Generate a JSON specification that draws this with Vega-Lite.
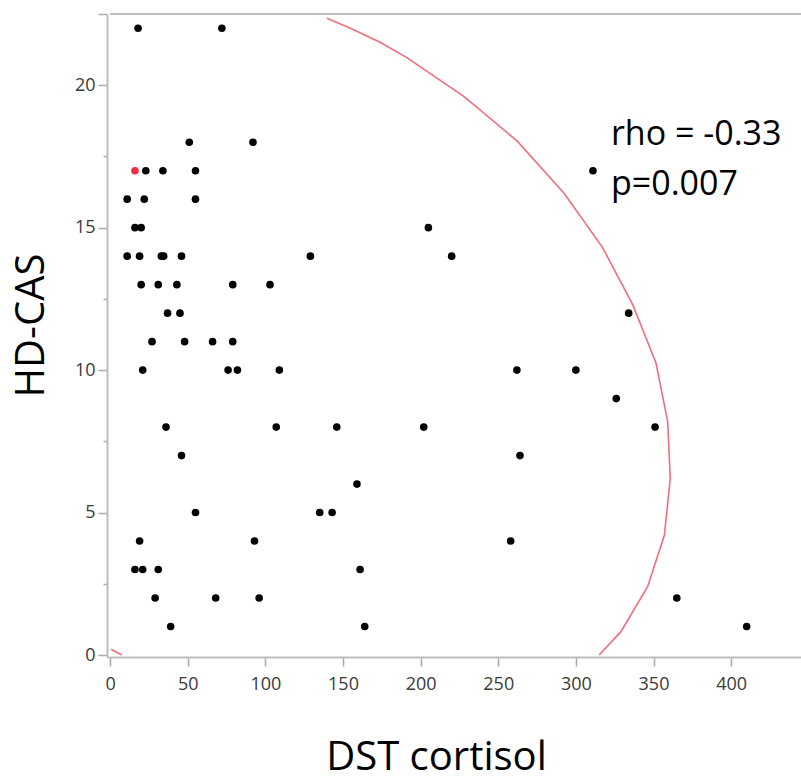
{
  "$schema": "https://vega.github.io/schema/vega-lite/v6.json",
  "width": 694,
  "height": 643,
  "autosize": {"type": "none"},
  "padding": {"left": 107, "top": 14, "right": 0, "bottom": 119},
  "background": "white",
  "config": {"view": {"stroke": null}, "font": "Open Sans"},
  "datasets": {
    "points": [
      {"cortisol": 18, "hdcas": 22, "group": "normal"},
      {"cortisol": 72, "hdcas": 22, "group": "normal"},
      {"cortisol": 51, "hdcas": 18, "group": "normal"},
      {"cortisol": 92, "hdcas": 18, "group": "normal"},
      {"cortisol": 16, "hdcas": 17, "group": "highlight"},
      {"cortisol": 23, "hdcas": 17, "group": "normal"},
      {"cortisol": 34, "hdcas": 17, "group": "normal"},
      {"cortisol": 55, "hdcas": 17, "group": "normal"},
      {"cortisol": 311, "hdcas": 17, "group": "normal"},
      {"cortisol": 11, "hdcas": 16, "group": "normal"},
      {"cortisol": 22, "hdcas": 16, "group": "normal"},
      {"cortisol": 55, "hdcas": 16, "group": "normal"},
      {"cortisol": 16, "hdcas": 15, "group": "normal"},
      {"cortisol": 20, "hdcas": 15, "group": "normal"},
      {"cortisol": 205, "hdcas": 15, "group": "normal"},
      {"cortisol": 11, "hdcas": 14, "group": "normal"},
      {"cortisol": 19, "hdcas": 14, "group": "normal"},
      {"cortisol": 33, "hdcas": 14, "group": "normal"},
      {"cortisol": 34.5, "hdcas": 14, "group": "normal"},
      {"cortisol": 46, "hdcas": 14, "group": "normal"},
      {"cortisol": 129, "hdcas": 14, "group": "normal"},
      {"cortisol": 220, "hdcas": 14, "group": "normal"},
      {"cortisol": 20, "hdcas": 13, "group": "normal"},
      {"cortisol": 31, "hdcas": 13, "group": "normal"},
      {"cortisol": 43, "hdcas": 13, "group": "normal"},
      {"cortisol": 79, "hdcas": 13, "group": "normal"},
      {"cortisol": 103, "hdcas": 13, "group": "normal"},
      {"cortisol": 37, "hdcas": 12, "group": "normal"},
      {"cortisol": 45, "hdcas": 12, "group": "normal"},
      {"cortisol": 334, "hdcas": 12, "group": "normal"},
      {"cortisol": 27, "hdcas": 11, "group": "normal"},
      {"cortisol": 48, "hdcas": 11, "group": "normal"},
      {"cortisol": 66, "hdcas": 11, "group": "normal"},
      {"cortisol": 79, "hdcas": 11, "group": "normal"},
      {"cortisol": 21, "hdcas": 10, "group": "normal"},
      {"cortisol": 76, "hdcas": 10, "group": "normal"},
      {"cortisol": 82, "hdcas": 10, "group": "normal"},
      {"cortisol": 109, "hdcas": 10, "group": "normal"},
      {"cortisol": 262, "hdcas": 10, "group": "normal"},
      {"cortisol": 300, "hdcas": 10, "group": "normal"},
      {"cortisol": 326, "hdcas": 9, "group": "normal"},
      {"cortisol": 36, "hdcas": 8, "group": "normal"},
      {"cortisol": 107, "hdcas": 8, "group": "normal"},
      {"cortisol": 146, "hdcas": 8, "group": "normal"},
      {"cortisol": 202, "hdcas": 8, "group": "normal"},
      {"cortisol": 351, "hdcas": 8, "group": "normal"},
      {"cortisol": 46, "hdcas": 7, "group": "normal"},
      {"cortisol": 264, "hdcas": 7, "group": "normal"},
      {"cortisol": 159, "hdcas": 6, "group": "normal"},
      {"cortisol": 55, "hdcas": 5, "group": "normal"},
      {"cortisol": 135, "hdcas": 5, "group": "normal"},
      {"cortisol": 143, "hdcas": 5, "group": "normal"},
      {"cortisol": 19, "hdcas": 4, "group": "normal"},
      {"cortisol": 93, "hdcas": 4, "group": "normal"},
      {"cortisol": 258, "hdcas": 4, "group": "normal"},
      {"cortisol": 16, "hdcas": 3, "group": "normal"},
      {"cortisol": 21, "hdcas": 3, "group": "normal"},
      {"cortisol": 31, "hdcas": 3, "group": "normal"},
      {"cortisol": 161, "hdcas": 3, "group": "normal"},
      {"cortisol": 29, "hdcas": 2, "group": "normal"},
      {"cortisol": 68, "hdcas": 2, "group": "normal"},
      {"cortisol": 96, "hdcas": 2, "group": "normal"},
      {"cortisol": 365, "hdcas": 2, "group": "normal"},
      {"cortisol": 39, "hdcas": 1, "group": "normal"},
      {"cortisol": 164, "hdcas": 1, "group": "normal"},
      {"cortisol": 410, "hdcas": 1, "group": "normal"}
    ],
    "ellipse": [
      {"seg": "a", "i": 1, "cortisol": 139.6, "hdcas": 22.35},
      {"seg": "a", "i": 2, "cortisol": 154.8, "hdcas": 22.0},
      {"seg": "a", "i": 3, "cortisol": 174.2, "hdcas": 21.5},
      {"seg": "a", "i": 4, "cortisol": 191.4, "hdcas": 20.96},
      {"seg": "a", "i": 5, "cortisol": 228, "hdcas": 19.6},
      {"seg": "a", "i": 6, "cortisol": 262.4, "hdcas": 18.03},
      {"seg": "a", "i": 7, "cortisol": 292.5, "hdcas": 16.2},
      {"seg": "a", "i": 8, "cortisol": 317.2, "hdcas": 14.3},
      {"seg": "a", "i": 9, "cortisol": 336.6, "hdcas": 12.3},
      {"seg": "a", "i": 10, "cortisol": 351.6, "hdcas": 10.25},
      {"seg": "a", "i": 11, "cortisol": 359.1, "hdcas": 8.2},
      {"seg": "a", "i": 12, "cortisol": 360.8, "hdcas": 6.2},
      {"seg": "a", "i": 13, "cortisol": 357, "hdcas": 4.2},
      {"seg": "a", "i": 14, "cortisol": 346.2, "hdcas": 2.4},
      {"seg": "a", "i": 15, "cortisol": 329, "hdcas": 0.82},
      {"seg": "a", "i": 16, "cortisol": 315, "hdcas": 0},
      {"seg": "b", "i": 1, "cortisol": 0.6, "hdcas": 0.2},
      {"seg": "b", "i": 2, "cortisol": 7.5, "hdcas": 0}
    ]
  },
  "layer": [
    {
      "data": {"name": "ellipse"},
      "mark": {"type": "line", "color": "#f26d7d", "strokeWidth": 1.6, "clip": true},
      "encoding": {
        "x": {"field": "cortisol", "type": "quantitative", "title": "DST cortisol", "scale": {"domain": [-2, 445], "nice": false, "zero": false},
          "axis": {"values": [0, 50, 100, 150, 200, 250, 300, 350, 400], "grid": false, "domainColor": "#bdbdbd", "domainWidth": 2, "tickColor": "#ababab", "tickWidth": 1.5, "tickSize": 9, "labelFont": "Open Sans", "labelFontSize": 18, "labelColor": "#3a3a3a", "labelPadding": 9, "labelFlush": false, "titleFont": "Open Sans", "titleFontSize": 40, "titleFontWeight": "normal", "titleColor": "#000000", "titleX": 329, "titleY": 112, "titleBaseline": "alphabetic", "titleAnchor": "middle"}},
        "y": {"field": "hdcas", "type": "quantitative", "title": "HD-CAS", "scale": {"domain": [-0.07, 22.5], "nice": false, "zero": false},
          "axis": {"values": [0, 2.5, 5, 7.5, 10, 12.5, 15, 17.5, 20, 22.5], "labelExpr": "datum.value % 5 === 0 ? datum.label : ''", "grid": false, "domainColor": "#bdbdbd", "domainWidth": 2, "tickColor": "#ababab", "tickWidth": 1.5, "tickSize": {"condition": {"test": "datum.value % 5 === 0 || datum.value === 22.5", "value": 9}, "value": 4}, "labelFont": "Open Sans", "labelFontSize": 18, "labelColor": "#3a3a3a", "labelPadding": 3, "labelFlush": false, "titleFont": "Open Sans", "titleFontSize": 40, "titleFontWeight": "normal", "titleColor": "#000000", "titleX": -64, "titleY": 311, "titleAngle": -90, "titleBaseline": "alphabetic", "titleAlign": "center"}},
        "detail": {"field": "seg"},
        "order": {"field": "i", "type": "quantitative"}
      }
    },
    {
      "data": {"name": "points"},
      "mark": {"type": "circle", "size": 58, "opacity": 1},
      "encoding": {
        "x": {"field": "cortisol", "type": "quantitative", "title": "DST cortisol", "scale": {"domain": [-2, 445], "nice": false, "zero": false},
          "axis": {"values": [0, 50, 100, 150, 200, 250, 300, 350, 400], "grid": false, "domainColor": "#bdbdbd", "domainWidth": 2, "tickColor": "#ababab", "tickWidth": 1.5, "tickSize": 9, "labelFont": "Open Sans", "labelFontSize": 18, "labelColor": "#3a3a3a", "labelPadding": 9, "labelFlush": false, "titleFont": "Open Sans", "titleFontSize": 40, "titleFontWeight": "normal", "titleColor": "#000000", "titleX": 329, "titleY": 112, "titleBaseline": "alphabetic", "titleAnchor": "middle"}},
        "y": {"field": "hdcas", "type": "quantitative", "title": "HD-CAS", "scale": {"domain": [-0.07, 22.5], "nice": false, "zero": false},
          "axis": {"values": [0, 2.5, 5, 7.5, 10, 12.5, 15, 17.5, 20, 22.5], "labelExpr": "datum.value % 5 === 0 ? datum.label : ''", "grid": false, "domainColor": "#bdbdbd", "domainWidth": 2, "tickColor": "#ababab", "tickWidth": 1.5, "tickSize": {"condition": {"test": "datum.value % 5 === 0 || datum.value === 22.5", "value": 9}, "value": 4}, "labelFont": "Open Sans", "labelFontSize": 18, "labelColor": "#3a3a3a", "labelPadding": 3, "labelFlush": false, "titleFont": "Open Sans", "titleFontSize": 40, "titleFontWeight": "normal", "titleColor": "#000000", "titleX": -64, "titleY": 311, "titleAngle": -90, "titleBaseline": "alphabetic", "titleAlign": "center"}},
        "color": {
          "field": "group", "type": "nominal",
          "scale": {"domain": ["normal", "highlight"], "range": ["#000000", "#f0303f"]},
          "legend": null
        }
      }
    },
    {
      "data": {"values": [{"cortisol": 0, "hdcas": 22.5}, {"cortisol": 445, "hdcas": 22.5}]},
      "mark": {"type": "line", "color": "#bdbdbd", "strokeWidth": 2},
      "encoding": {
        "x": {"field": "cortisol", "type": "quantitative", "title": "DST cortisol", "scale": {"domain": [-2, 445], "nice": false, "zero": false},
          "axis": {"values": [0, 50, 100, 150, 200, 250, 300, 350, 400], "grid": false, "domainColor": "#bdbdbd", "domainWidth": 2, "tickColor": "#ababab", "tickWidth": 1.5, "tickSize": 9, "labelFont": "Open Sans", "labelFontSize": 18, "labelColor": "#3a3a3a", "labelPadding": 9, "labelFlush": false, "titleFont": "Open Sans", "titleFontSize": 40, "titleFontWeight": "normal", "titleColor": "#000000", "titleX": 329, "titleY": 112, "titleBaseline": "alphabetic", "titleAnchor": "middle"}},
        "y": {"field": "hdcas", "type": "quantitative", "title": "HD-CAS", "scale": {"domain": [-0.07, 22.5], "nice": false, "zero": false},
          "axis": {"values": [0, 2.5, 5, 7.5, 10, 12.5, 15, 17.5, 20, 22.5], "labelExpr": "datum.value % 5 === 0 ? datum.label : ''", "grid": false, "domainColor": "#bdbdbd", "domainWidth": 2, "tickColor": "#ababab", "tickWidth": 1.5, "tickSize": {"condition": {"test": "datum.value % 5 === 0 || datum.value === 22.5", "value": 9}, "value": 4}, "labelFont": "Open Sans", "labelFontSize": 18, "labelColor": "#3a3a3a", "labelPadding": 3, "labelFlush": false, "titleFont": "Open Sans", "titleFontSize": 40, "titleFontWeight": "normal", "titleColor": "#000000", "titleX": -64, "titleY": 311, "titleAngle": -90, "titleBaseline": "alphabetic", "titleAlign": "center"}}
      }
    },
    {
      "data": {"values": [{"cortisol": 322.6, "hdcas": 17.9}]},
      "mark": {"type": "text", "text": "rho = -0.33\np=0.007", "lineBreak": "\n", "lineHeight": 50, "font": "Open Sans", "fontSize": 34, "align": "left", "baseline": "alphabetic", "color": "#000000"},
      "encoding": {
        "x": {"field": "cortisol", "type": "quantitative", "title": "DST cortisol", "scale": {"domain": [-2, 445], "nice": false, "zero": false},
          "axis": {"values": [0, 50, 100, 150, 200, 250, 300, 350, 400], "grid": false, "domainColor": "#bdbdbd", "domainWidth": 2, "tickColor": "#ababab", "tickWidth": 1.5, "tickSize": 9, "labelFont": "Open Sans", "labelFontSize": 18, "labelColor": "#3a3a3a", "labelPadding": 9, "labelFlush": false, "titleFont": "Open Sans", "titleFontSize": 40, "titleFontWeight": "normal", "titleColor": "#000000", "titleX": 329, "titleY": 112, "titleBaseline": "alphabetic", "titleAnchor": "middle"}},
        "y": {"field": "hdcas", "type": "quantitative", "title": "HD-CAS", "scale": {"domain": [-0.07, 22.5], "nice": false, "zero": false},
          "axis": {"values": [0, 2.5, 5, 7.5, 10, 12.5, 15, 17.5, 20, 22.5], "labelExpr": "datum.value % 5 === 0 ? datum.label : ''", "grid": false, "domainColor": "#bdbdbd", "domainWidth": 2, "tickColor": "#ababab", "tickWidth": 1.5, "tickSize": {"condition": {"test": "datum.value % 5 === 0 || datum.value === 22.5", "value": 9}, "value": 4}, "labelFont": "Open Sans", "labelFontSize": 18, "labelColor": "#3a3a3a", "labelPadding": 3, "labelFlush": false, "titleFont": "Open Sans", "titleFontSize": 40, "titleFontWeight": "normal", "titleColor": "#000000", "titleX": -64, "titleY": 311, "titleAngle": -90, "titleBaseline": "alphabetic", "titleAlign": "center"}}
      }
    }
  ]
}
